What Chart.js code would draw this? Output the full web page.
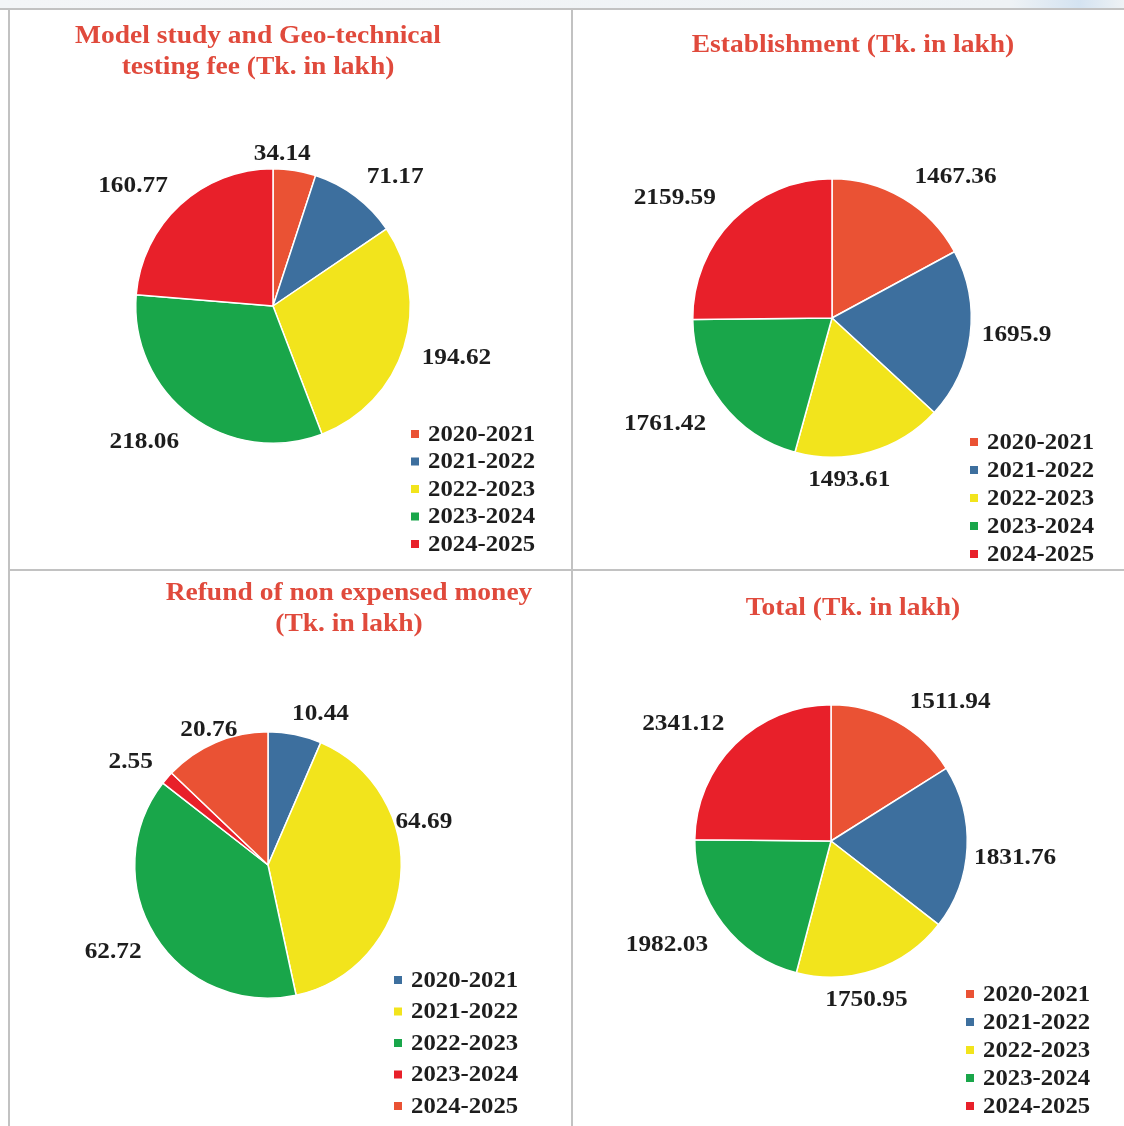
<!DOCTYPE html>
<html>
<head>
<meta charset="utf-8">
<script src="https://cdn.jsdelivr.net/npm/chart.js@4.4.1/dist/chart.umd.min.js"></script>
<style>
  body { margin: 0; width: 1124px; height: 1126px; background: #fff; position: relative; overflow: hidden; }
  canvas { position: absolute; }
  .rule { position: absolute; background: #c2c2c2; z-index: 2; }
  .topbar { position: absolute; left: 0; top: 0; width: 1124px; height: 8px;
    background: linear-gradient(to right, #f3f5f7 0%, #eef2f5 90%, #d4e3f1 96%, #eef2f5 100%); }
</style>
</head>
<body>
<div class="topbar"></div>
<div class="rule" style="left:0;top:8px;width:1124px;height:2px"></div>
<div class="rule" style="left:8px;top:9px;width:2px;height:1117px"></div>
<div class="rule" style="left:571px;top:9px;width:2px;height:1117px"></div>
<div class="rule" style="left:8px;top:569px;width:1116px;height:2px"></div>

<canvas id="feeChart" width="572" height="570" style="left:0;top:0"></canvas>
<canvas id="estChart" width="552" height="570" style="left:572px;top:0"></canvas>
<canvas id="refundChart" width="572" height="556" style="left:0;top:570px"></canvas>
<canvas id="totalChart" width="552" height="556" style="left:572px;top:570px"></canvas>

<script>
const fiscalYears = ['2020-2021', '2021-2022', '2022-2023', '2023-2024', '2024-2025'];
const testingFee = [34.14, 71.17, 194.62, 218.06, 160.77];
const establishment = [1467.36, 1695.9, 1493.61, 1761.42, 2159.59];
const refundMoney = [10.44, 64.69, 62.72, 2.55, 20.76];
const totalAmount = [1511.94, 1831.76, 1750.95, 1982.03, 2341.12];

const yearColors = ['#ea5234', '#3d6f9e', '#f2e41c', '#19a64a', '#e8202a'];
const refundColors = ['#3d6f9e', '#f2e41c', '#19a64a', '#e8202a', '#ea5234'];

const SERIF = '"Liberation Serif", "Times New Roman", serif';
const STRETCH = 1.1; // text is a bit wide in the printed report

function wideText(ctx, text, x, y) {
    ctx.save();
    ctx.translate(x, y);
    ctx.scale(STRETCH, 1);
    ctx.fillText(text, 0, 0);
    ctx.restore();
}

// draws title, value labels and legend for one pie
const piePanelPlugin = {
    id: 'piePanel',
    afterDraw(chart, args, opts) {
        const ctx = chart.ctx;
        ctx.save();

        // title
        ctx.fillStyle = '#e04a3c';
        ctx.font = 'bold 25px ' + SERIF;
        ctx.textAlign = 'center';
        ctx.textBaseline = 'middle';
        opts.title.forEach((line, i) => {
            wideText(ctx, line, opts.titleX, opts.titleY + i * 31);
        });

        // value labels just outside each slice
        const values = chart.data.datasets[0].data;
        const arcs = chart.getDatasetMeta(0).data;
        ctx.fillStyle = '#1d1d1d';
        ctx.font = 'bold 23px ' + SERIF;
        arcs.forEach((arc, i) => {
            const mid = (arc.startAngle + arc.endAngle) / 2;
            const dx = Math.cos(mid), dy = Math.sin(mid);
            const text = String(values[i]);
            const w = ctx.measureText(text).width * STRETCH;
            const h = 18;
            const r = arc.outerRadius + opts.labelPad;
            const shift = opts.labelShift[i] || [0, 0];
            const x = arc.x + r * dx + dx * w / 2 + shift[0];
            const y = arc.y + r * dy + dy * h / 2 + shift[1];
            wideText(ctx, text, x, y);
        });

        // legend
        ctx.textAlign = 'left';
        ctx.font = 'bold 22.5px ' + SERIF;
        const colors = chart.data.datasets[0].backgroundColor;
        chart.data.labels.forEach((label, i) => {
            const y = opts.legendY + i * opts.legendGap;
            ctx.fillStyle = colors[i];
            ctx.fillRect(opts.legendX - 17, y - 4, 8, 8);
            ctx.fillStyle = '#1d1d1d';
            wideText(ctx, label, opts.legendX, y + 1);
        });

        ctx.restore();
    }
};

function makePie(id, values, colors, panel) {
    const canvas = document.getElementById(id);
    const W = canvas.width, H = canvas.height;
    new Chart(canvas.getContext('2d'), {
        type: 'pie',
        data: {
            labels: fiscalYears,
            datasets: [{
                data: values,
                backgroundColor: colors,
                borderColor: '#ffffff',
                borderWidth: 1.5
            }]
        },
        options: {
            responsive: false,
            animation: false,
            layout: {
                padding: {
                    left: panel.cx - panel.r,
                    right: W - panel.cx - panel.r,
                    top: panel.cy - panel.r,
                    bottom: H - panel.cy - panel.r
                }
            },
            plugins: {
                legend: { display: false },
                tooltip: { enabled: false },
                piePanel: panel
            }
        },
        plugins: [piePanelPlugin]
    });
}

makePie('feeChart', testingFee, yearColors, {
    cx: 273, cy: 306, r: 138,
    title: ['Model study and Geo-technical', 'testing fee (Tk. in lakh)'],
    titleX: 258, titleY: 37,
    labelPad: 14,
    labelShift: [[-19, 6], [14, -1], [6, 4], [-17, 8], [-14, -2]],
    legendX: 428, legendY: 434, legendGap: 27.5
});

makePie('estChart', establishment, yearColors, {
    cx: 260, cy: 318, r: 140,
    title: ['Establishment (Tk. in lakh)'],
    titleX: 281, titleY: 46,
    labelPad: 14,
    labelShift: [[24, -2], [-2, -3], [-36, 6], [-13, 7], [-19, -6]],
    legendX: 415, legendY: 442, legendGap: 28
});

makePie('refundChart', refundMoney, refundColors, {
    cx: 268, cy: 295, r: 134,
    title: ['Refund of non expensed money', '(Tk. in lakh)'],
    titleX: 349, titleY: 24,
    labelPad: 14,
    labelShift: [[17, 2], [-19, -58], [-6, 4], [-9, -1], [10, 9]],
    legendX: 411, legendY: 410, legendGap: 31.5
});

makePie('totalChart', totalAmount, yearColors, {
    cx: 259, cy: 271, r: 137,
    title: ['Total (Tk. in lakh)'],
    titleX: 281, titleY: 39,
    labelPad: 14,
    labelShift: [[27, 0], [-7, 9], [-26, 8], [-12, 7], [-13, -4]],
    legendX: 411, legendY: 424, legendGap: 28
});
</script>
</body>
</html>
